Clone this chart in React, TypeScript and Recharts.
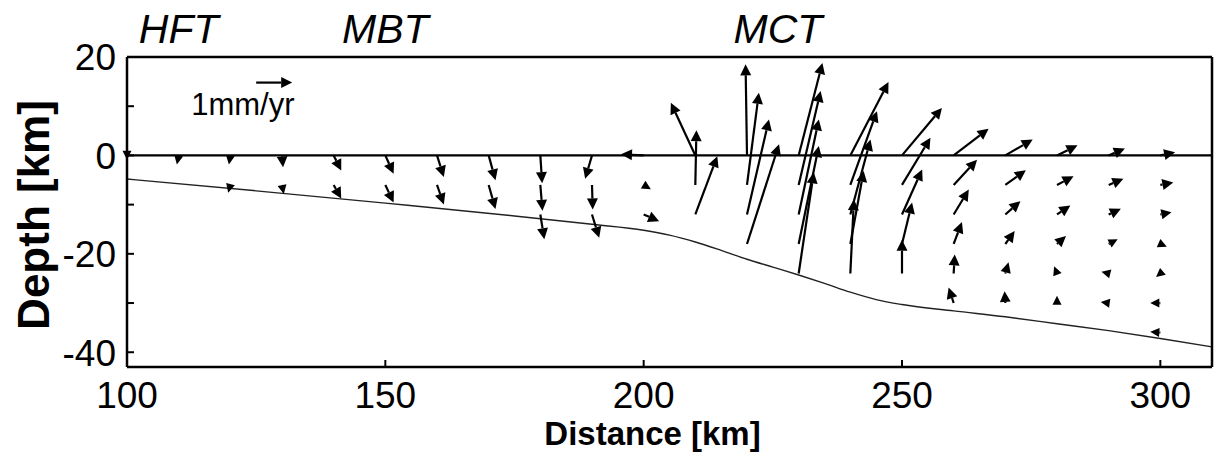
import React from 'react';
import { ComposedChart, Scatter, Line, XAxis, YAxis, ReferenceLine } from 'recharts';

// velocity vectors, one list per depth row: [distance km, horizontal mm/yr, vertical mm/yr]
const ROW_0KM = [
  [100, 0.0, -0.12], [110, -0.05, -0.25], [120, -0.04, -0.25], [130, 0.03, -0.33],
  [140, 0.21, -0.42], [150, 0.23, -0.51], [160, 0.19, -0.6], [170, 0.19, -0.69],
  [180, 0.05, -0.77], [190, -0.19, -0.65], [200, -0.63, 0.03], [210, -0.68, 1.46],
  [220, -0.04, 2.53], [230, 0.66, 2.57], [240, 1.06, 2.04], [250, 1.11, 1.32],
  [260, 0.97, 0.74], [270, 0.76, 0.44], [280, 0.57, 0.28], [290, 0.45, 0.19], [300, 0.41, 0.09],
];
const ROW_6KM = [
  [120, -0.06, -0.22], [130, 0.05, -0.25], [140, 0.21, -0.38], [150, 0.23, -0.49],
  [160, 0.19, -0.54], [170, 0.19, -0.67], [180, 0.06, -0.72], [190, 0.02, -0.68],
  [200, 0.2, -0.12], [210, 0.03, 1.52], [220, 0.33, 2.56], [230, 0.61, 2.61],
  [240, 0.74, 2.05], [250, 0.79, 1.31], [260, 0.65, 0.7], [270, 0.57, 0.41],
  [280, 0.46, 0.24], [290, 0.41, 0.17], [300, 0.36, 0.07],
];
const ROW_12KM = [
  [180, 0.11, -0.69], [190, 0.2, -0.65], [200, 0.43, -0.19], [210, 0.61, 1.62],
  [220, 0.61, 2.64], [230, 0.56, 2.64], [240, 0.56, 2.08], [250, 0.56, 1.25],
  [260, 0.42, 0.69], [270, 0.42, 0.37], [280, 0.37, 0.25], [290, 0.34, 0.16], [300, 0.31, 0.06],
];
const ROW_18KM = [
  [220, 0.89, 2.77], [230, 0.56, 2.72], [240, 0.37, 2.03], [250, 0.28, 1.15],
  [260, 0.23, 0.61], [270, 0.26, 0.36], [280, 0.25, 0.22], [290, 0.25, 0.13], [300, 0.18, -0.08],
];
const ROW_24KM = [
  [230, 0.42, 2.81], [240, 0.1, 2.06], [250, 0.0, 0.94], [260, 0.03, 0.53],
  [270, 0.09, 0.31], [280, -0.08, 0.2], [290, -0.2, 0.05], [300, -0.12, -0.1],
];
const ROW_30KM = [
  [260, -0.14, 0.43], [270, -0.02, 0.33], [280, 0.0, 0.2], [290, -0.22, 0.03], [300, -0.28, 0.0],
];
const ROW_36KM = [[300, -0.28, 0.02]];

const ROW_DEPTHS = [0, -6, -12, -18, -24, -30, -36];
const ROWS = [ROW_0KM, ROW_6KM, ROW_12KM, ROW_18KM, ROW_24KM, ROW_30KM, ROW_36KM];

// decollement / fault geometry
const FAULT_X = [100, 125, 150, 175, 190, 200, 205, 210, 215, 220, 225, 230, 235, 240, 245, 250, 260, 270, 280, 290, 300, 310];
const FAULT_DEPTH = [-4.8, -7.2, -9.7, -12.3, -14.0, -15.2, -16.2, -17.6, -19.3, -21.1, -22.7, -24.3, -26.0, -27.8, -29.3, -30.3, -31.6, -32.8, -34.2, -35.6, -37.2, -38.9];

// scale arrow
const SCALE_POS = [125, 14.8];
const SCALE_LABEL = '1mm/yr';

const FAULT_NAMES = ['HFT', 'MBT', 'MCT'];
const FAULT_NAME_POS = [110, 150, 226];

const X_TICKS = [100, 150, 200, 250, 300];
const Y_TICKS = [-40, -30, -20, -10, 0, 10, 20];
const Y_MAX = 20;

const FONT = '"Liberation Sans", Arial, Helvetica, sans-serif';
const PX_PER_MM = 36;

const arrows = ROWS.flatMap((row, i) =>
  row.map(([x, u, v]) => ({ x, y: ROW_DEPTHS[i], u, v }))
);
const fault = FAULT_X.map((x, i) => ({ x, y: FAULT_DEPTH[i] }));
const scaleData = [{ x: SCALE_POS[0], y: SCALE_POS[1], u: 1, v: 0 }];
const nameData = FAULT_NAMES.map((name, i) => ({ x: FAULT_NAME_POS[i], y: Y_MAX, name }));

function arrowGlyph(cx: number, cy: number, u: number, v: number) {
  const dx = u * PX_PER_MM;
  const dy = -v * PX_PER_MM;
  const len = Math.hypot(dx, dy);
  if (len < 0.5) return <g />;
  const ux = dx / len, uy = dy / len;
  const hl = Math.min(11, Math.max(9, len * 0.9));
  const hw = hl * 0.5;
  const tx = cx + dx, ty = cy + dy;
  const bx = tx - ux * hl, by = ty - uy * hl;
  const px = -uy, py = ux;
  return (
    <g>
      {len > hl && <line x1={cx} y1={cy} x2={bx} y2={by} stroke="#000" strokeWidth={2.2} />}
      <polygon
        points={`${tx},${ty} ${bx + px * hw},${by + py * hw} ${bx - px * hw},${by - py * hw}`}
        fill="#000"
      />
    </g>
  );
}

const ArrowShape = (props: any) => {
  const { cx, cy, payload } = props;
  return arrowGlyph(cx, cy, payload.u, payload.v);
};

const ScaleShape = (props: any) => {
  const { cx, cy, payload } = props;
  return (
    <g>
      {arrowGlyph(cx, cy, payload.u, payload.v)}
      <text x={cx - 65} y={cy + 32} fontSize={31} fontFamily={FONT} fill="#000">{SCALE_LABEL}</text>
    </g>
  );
};

const NameShape = (props: any) => {
  const { cx, cy, payload } = props;
  return (
    <text x={cx} y={cy - 14} textAnchor="middle" fontSize={41} fontStyle="italic" fontFamily={FONT} fill="#000">
      {payload.name}
    </text>
  );
};

const BottomTick = (props: any) => {
  const { x, y, payload } = props;
  return (
    <g>
      <line x1={x} y1={y} x2={x} y2={y - 7} stroke="#000" strokeWidth={2} />
      <text x={x} y={y + 41} textAnchor="middle" fontSize={37} fontFamily={FONT} fill="#000">{payload.value}</text>
    </g>
  );
};

const TopTick = (props: any) => {
  const { x, y } = props;
  return <line x1={x} y1={y} x2={x} y2={y + 7} stroke="#000" strokeWidth={2} />;
};

const LeftTick = (props: any) => {
  const { x, y, payload } = props;
  return (
    <g>
      <line x1={x} y1={y} x2={x + 7} y2={y} stroke="#000" strokeWidth={2} />
      {payload.value % 20 === 0 && (
        <text x={x - 11} y={y} dy="0.36em" textAnchor="end" fontSize={37} fontFamily={FONT} fill="#000">{payload.value}</text>
      )}
    </g>
  );
};

const RightTick = (props: any) => {
  const { x, y } = props;
  return <line x1={x} y1={y} x2={x - 7} y2={y} stroke="#000" strokeWidth={2} />;
};

const DepthTitle = (props: any) => {
  const { viewBox } = props;
  const cx = viewBox.x + viewBox.width - 78;
  const cy = viewBox.y + viewBox.height / 2 + 3;
  return (
    <text x={cx} y={cy} transform={`rotate(-90 ${cx} ${cy})`} textAnchor="middle" fontSize={44} fontWeight="bold" fontFamily={FONT} fill="#000">
      Depth [km]
    </text>
  );
};

const DistanceTitle = (props: any) => {
  const { viewBox } = props;
  const cx = viewBox.x + viewBox.width / 2 - 17;
  return (
    <text x={cx} y={viewBox.y + 78} textAnchor="middle" fontSize={33} fontWeight="bold" fontFamily={FONT} fill="#000">
      Distance [km]
    </text>
  );
};

export default function App() {
  return (
    <div style={{ position: 'absolute', left: 0, top: 0, background: '#fff' }}>
      <ComposedChart width={1216} height={461} margin={{ top: 56, right: 3, bottom: 93, left: 126 }}>
        <XAxis
          xAxisId="b" dataKey="x" type="number" domain={[100, 310]}
          ticks={X_TICKS} interval={0} height={1} tickSize={0} tickMargin={0} tickLine={false}
          axisLine={{ stroke: '#000', strokeWidth: 2.5 }} tick={<BottomTick />}
          label={<DistanceTitle />}
        />
        <XAxis
          xAxisId="t" orientation="top" type="number" domain={[100, 310]}
          ticks={X_TICKS} interval={0} height={1} tickSize={0} tickMargin={0} tickLine={false}
          axisLine={{ stroke: '#000', strokeWidth: 2.5 }} tick={<TopTick />}
        />
        <YAxis
          yAxisId="l" dataKey="y" type="number" domain={[-43, Y_MAX]}
          ticks={Y_TICKS} interval={0} width={1} tickSize={0} tickMargin={0} tickLine={false}
          axisLine={{ stroke: '#000', strokeWidth: 2.5 }} tick={<LeftTick />}
          label={<DepthTitle />}
        />
        <YAxis
          yAxisId="r" orientation="right" type="number" domain={[-43, Y_MAX]}
          ticks={Y_TICKS} interval={0} width={1} tickSize={0} tickMargin={0} tickLine={false}
          axisLine={{ stroke: '#000', strokeWidth: 2.5 }} tick={<RightTick />}
        />
        <ReferenceLine xAxisId="b" yAxisId="l" y={0} stroke="#000" strokeWidth={2.2} />
        <Line
          xAxisId="b" yAxisId="l" data={fault} dataKey="y" type="monotone"
          stroke="#222" strokeWidth={1.4} dot={false} isAnimationActive={false}
        />
        <Scatter
          xAxisId="b" yAxisId="l" data={arrows} dataKey="y" shape={<ArrowShape />}
          isAnimationActive={false}
        />
        <Scatter
          xAxisId="b" yAxisId="l" data={scaleData} dataKey="y" shape={<ScaleShape />}
          isAnimationActive={false}
        />
        <Scatter
          xAxisId="b" yAxisId="l" data={nameData} dataKey="y" shape={<NameShape />}
          isAnimationActive={false}
        />
      </ComposedChart>
    </div>
  );
}
